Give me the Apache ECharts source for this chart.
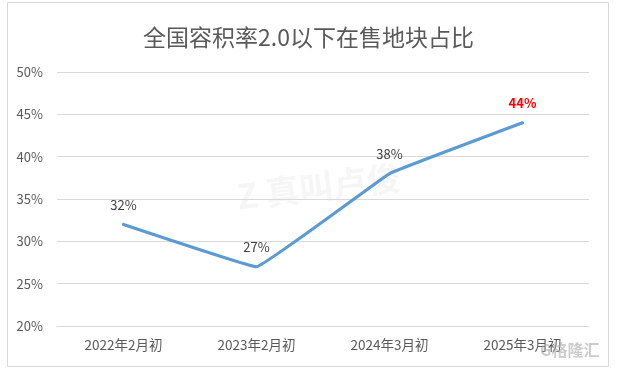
<!DOCTYPE html>
<html><head><meta charset="utf-8">
<script src="https://cdn.jsdelivr.net/npm/echarts@6/dist/echarts.min.js"></script>
<style>html,body{margin:0;padding:0;background:#fff}#c{width:617px;height:372px}</style>
</head><body><div id="c"></div>
<script>
const categories = ['2022年2月初', '2023年2月初', '2024年3月初', '2025年3月初'];
const values = [32, 27, 38, 44];
const yTicks = [20, 25, 30, 35, 40, 45, 50];
const titleText = '全国容积率2.0以下在售地块占比';

const chart = echarts.init(document.getElementById('c'), null, {renderer: 'canvas'});
const font = '"Microsoft YaHei","Noto Sans CJK SC",sans-serif';
const lastIdx = values.length - 1;
chart.setOption({
  animation: false,
  backgroundColor: '#fff',
  title: {
    text: titleText, left: 'center', top: 21,
    textStyle: {fontSize: 23, fontWeight: 'normal', color: '#595959', fontFamily: font}
  },
  grid: {left: 57, right: 28, top: 72, bottom: 46, containLabel: false},
  xAxis: {
    type: 'category', data: categories, boundaryGap: true,
    axisLine: {show: true, lineStyle: {color: '#d9d9d9'}},
    axisTick: {show: false},
    axisLabel: {color: '#595959', fontSize: 13.5, margin: 12, fontFamily: font}
  },
  yAxis: {
    type: 'value', min: yTicks[0], max: yTicks[yTicks.length - 1], interval: 5,
    axisLine: {show: false}, axisTick: {show: false},
    axisLabel: {color: '#595959', fontSize: 13, margin: 14, formatter: v => v + '%', fontFamily: font},
    splitLine: {lineStyle: {color: '#d9d9d9', width: 1}}
  },
  graphic: [
    {type: 'rect', shape: {x: 7.5, y: 2.5, width: 601, height: 364}, style: {fill: 'none', stroke: '#d9d9d9', lineWidth: 1}, z: -1},
    {type: 'text', left: 235, top: 160, rotation: 0.12, style: {text: 'Z 真叫卢俊', fill: 'rgba(200,200,200,0.16)', font: 'bold 34px "Noto Sans CJK SC"'}, z: -1},
    {type: 'text', left: 540, top: 342, style: {text: 'G格隆汇', fill: 'rgba(170,170,170,0.6)', font: 'bold 16px "Noto Sans CJK SC"'}, z: 10}
  ],
  series: [{
    type: 'line', smooth: 0.05,
    data: values.map((v, i) => i === lastIdx ? {value: v, label: {color: '#ff0000', fontWeight: 'bold'}} : v),
    symbol: 'circle', symbolSize: 2, showSymbol: true,
    itemStyle: {color: 'rgba(91,155,213,0)', borderWidth: 0},
    lineStyle: {color: '#5b9bd5', width: 3.2, cap: 'round', join: 'round'},
    label: {
      show: true, position: 'top', distance: 12, formatter: p => p.value + '%',
      color: '#404040', fontSize: 13, fontFamily: font
    },
    labelLayout: {hideOverlap: false}
  }]
});
</script></body></html>
